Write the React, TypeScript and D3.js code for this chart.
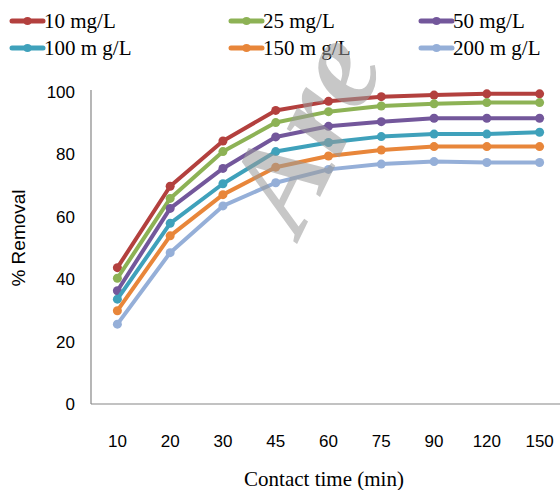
import React from "react";
import { scalePoint, scaleLinear, line } from "d3";

const times = ["10", "20", "30", "45", "60", "75", "90", "120", "150"];
const yTicks = [0, 20, 40, 60, 80, 100];

const c10 = [43.7, 69.8, 84.3, 94.1, 97.0, 98.5, 99.0, 99.4, 99.4];
const c25 = [40.3, 65.9, 80.9, 90.2, 93.7, 95.5, 96.2, 96.6, 96.6];
const c50 = [36.3, 62.7, 75.5, 85.6, 89.0, 90.5, 91.6, 91.6, 91.6];
const c100 = [33.6, 57.9, 70.6, 80.9, 83.8, 85.7, 86.5, 86.5, 87.1];
const c150 = [29.9, 53.9, 67.1, 75.9, 79.5, 81.4, 82.5, 82.5, 82.5];
const c200 = [25.6, 48.5, 63.5, 70.9, 75.2, 76.9, 77.7, 77.4, 77.4];

const seriesNames = ["10 mg/L", "25 mg/L", "50 mg/L", "100 m g/L", "150 m g/L", "200 m g/L"];
const seriesValues = [c10, c25, c50, c100, c150, c200];
const colors = ["#B3403E", "#8DB255", "#73579B", "#3FA1BB", "#E8863A", "#95AFD8"];

export default function App() {
  const width = 560,
    height = 490;
  const left = 91,
    bottom = 404,
    top = 92;

  const x = scalePoint<string>().domain(times).range([left, left + 475]).padding(0.5);
  const y = scaleLinear().domain([0, 100]).range([bottom, top]);

  const path = line<number>()
    .x((d, i) => x(times[i]) as number)
    .y(d => y(d));

  const legendCols = [12, 231, 421];
  const legendRows = [21, 48];

  return (
    <svg
      width={width}
      height={height}
      style={{ position: "absolute", left: 0, top: 0, background: "#fff" }}
    >
      {/* legend */}
      {seriesNames.map((name, i) => {
        const lx = legendCols[i % 3];
        const ly = legendRows[Math.floor(i / 3)];
        return (
          <g key={name}>
            <line x1={lx} x2={lx + 31} y1={ly} y2={ly} stroke={colors[i]} strokeWidth={5} strokeLinecap="round" />
            <circle cx={lx + 15.5} cy={ly} r={4} fill={colors[i]} />
            <text
              x={lx + 32}
              y={ly + 7}
              style={{ fontFamily: "Liberation Serif", fontSize: 21, fill: "#000" }}
            >
              {name}
            </text>
          </g>
        );
      })}

      {/* axes */}
      <line x1={left} x2={width} y1={bottom} y2={bottom} stroke="#868686" strokeWidth={1.2} />
      <line x1={left} x2={left} y1={top - 2} y2={bottom} stroke="#868686" strokeWidth={1.2} />

      {yTicks.map(t => (
        <text
          key={t}
          x={75}
          y={y(t) + 6}
          textAnchor="end"
          style={{ fontFamily: "Liberation Sans", fontSize: 17, fill: "#000" }}
        >
          {t}
        </text>
      ))}
      {times.map(t => (
        <text
          key={t}
          x={x(t) as number}
          y={447}
          textAnchor="middle"
          style={{ fontFamily: "Liberation Sans", fontSize: 17, fill: "#000" }}
        >
          {t}
        </text>
      ))}

      <text
        transform={`translate(25, 238) rotate(-90)`}
        textAnchor="middle"
        style={{ fontFamily: "Liberation Sans", fontSize: 19, fill: "#000" }}
      >
        % Removal
      </text>
      <text
        x={324}
        y={486}
        textAnchor="middle"
        style={{ fontFamily: "Liberation Serif", fontSize: 21, fill: "#000" }}
      >
        Contact time (min)
      </text>

      {/* series */}
      {seriesValues.map((vals, i) => (
        <g key={seriesNames[i]}>
          <path d={path(vals) || ""} fill="none" stroke={colors[i]} strokeWidth={4} strokeLinejoin="round" />
          {vals.map((v, j) => (
            <circle key={j} cx={x(times[j]) as number} cy={y(v)} r={4.5} fill={colors[i]} />
          ))}
        </g>
      ))}

      {/* watermark */}
      <text
        transform="translate(300, 238) rotate(-64)"
        style={{
          fontFamily: "Liberation Serif",
          fontStyle: "italic",
          fontWeight: "bold",
          fontSize: 130,
          fill: "#9a9a9a",
          opacity: 0.55
        }}
      >
        Are
      </text>
    </svg>
  );
}
